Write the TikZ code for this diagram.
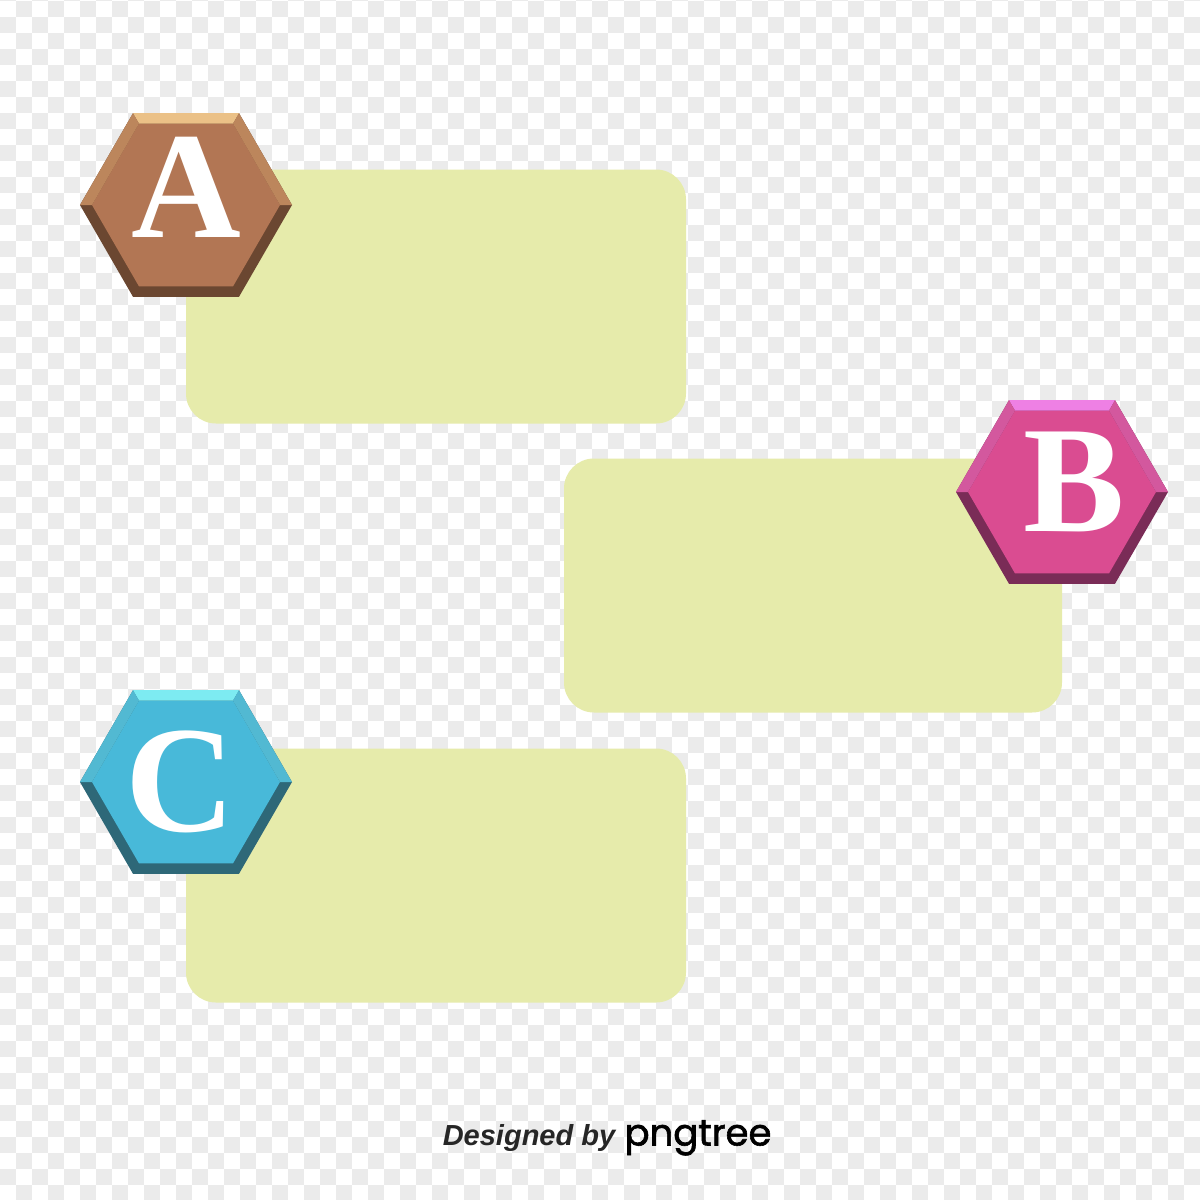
\documentclass[tikz,border=0pt]{standalone}
\usepackage{fontspec}
\usepackage{tikz}
\usetikzlibrary{shapes.geometric,positioning}
\setmainfont{Liberation Serif}
\newfontfamily\fuentecred{Liberation Sans}
\newfontfamily\fuentelogo[FakeBold=1.6]{Poppins}
\definecolor{cuadro}{HTML}{EBEBEB}
\definecolor{crema}{HTML}{E6EBAB}
\definecolor{cafeClaro}{HTML}{EBC187}
\definecolor{cafeMedio}{HTML}{BC865C}
\definecolor{cafeOscuro}{HTML}{6B4731}
\definecolor{cafeCara}{HTML}{B27654}
\definecolor{rosaClaro}{HTML}{EE80E4}
\definecolor{rosaMedio}{HTML}{D3589E}
\definecolor{rosaOscuro}{HTML}{7A2C57}
\definecolor{rosaCara}{HTML}{DA4C91}
\definecolor{azulClaro}{HTML}{7DEBF2}
\definecolor{azulMedio}{HTML}{52B9D2}
\definecolor{azulOscuro}{HTML}{2E6878}
\definecolor{azulCara}{HTML}{48B9D9}
\tikzstyle{caja} = [fill=crema, rectangle, rounded corners=30pt, minimum width=500pt, minimum height=254pt, inner sep=0pt]
\tikzstyle{hexagono} = [regular polygon, regular polygon sides=6, minimum size=212pt, inner sep=0pt, outer sep=0pt]
\tikzstyle{letra} = [text=white, font=\fontsize{152}{152}\selectfont\bfseries, inner sep=0pt]
\tikzstyle{credito} = [font=\fuentecred\fontsize{29}{29}\selectfont\bfseries\itshape, text=black!85, inner sep=0pt]
\tikzstyle{marca} = [font=\fuentelogo\fontsize{37}{37}\selectfont, text=black, inner sep=0pt]
% hexagono biselado: nombre, centro, claro, medio, oscuro, cara
\newcommand{\hexbisel}[6]{%
  \node[hexagono, fill=#5] (#1) at #2 {};
  \node[hexagono, minimum size=188pt, fill=#6] (#1in) at #2 {};
  \fill[#3] (#1.corner 1) -- (#1.corner 2) -- (#1in.corner 2) -- (#1in.corner 1) -- cycle;
  \fill[#4] (#1.corner 2) -- (#1.corner 3) -- (#1in.corner 3) -- (#1in.corner 2) -- cycle;
  \fill[#4] (#1.corner 6) -- (#1.corner 1) -- (#1in.corner 1) -- (#1in.corner 6) -- cycle;
}
\begin{document}
\begin{tikzpicture}[x=1pt, y=-1pt]
  \useasboundingbox (0,0) rectangle (1200,1200);
  \clip (0,0) rectangle (1200,1200);
  % fondo de cuadros
  \fill[white] (0,0) rectangle (1200,1200);
  \foreach \i in {0,...,74}{
    \pgfmathtruncatemacro{\jo}{mod(\i,2)}
    \foreach \j in {0,...,37}{
      \fill[cuadro] ({16*\i},{16*(2*\j+\jo)-15}) rectangle +(16,16);
    }
  }
  % cajas
  \node[caja] (cajaA) at (436,296.5) {};
  \node[caja, minimum width=498pt] (cajaB) at (813,585.5) {};
  \node[caja] (cajaC) at (436,875.5) {};
  % hexagonos
  \hexbisel{hexA}{(186,205)}{cafeClaro}{cafeMedio}{cafeOscuro}{cafeCara}
  \hexbisel{hexB}{(1062,492)}{rosaClaro}{rosaMedio}{rosaOscuro}{rosaCara}
  \hexbisel{hexC}{(186,782)}{azulClaro}{azulMedio}{azulOscuro}{azulCara}
  \node[letra] (letA) at (186,187) {A};
  \node[letra] (letB) at (1074,482) {B};
  \node[letra] (letC) at (180,782) {C};
  % firma
  \node[credito] (disenado) at (529,1138) {Designed by};
  \node[marca, base right=9pt of disenado] (logo) {pngtree};
\end{tikzpicture}
\end{document}
